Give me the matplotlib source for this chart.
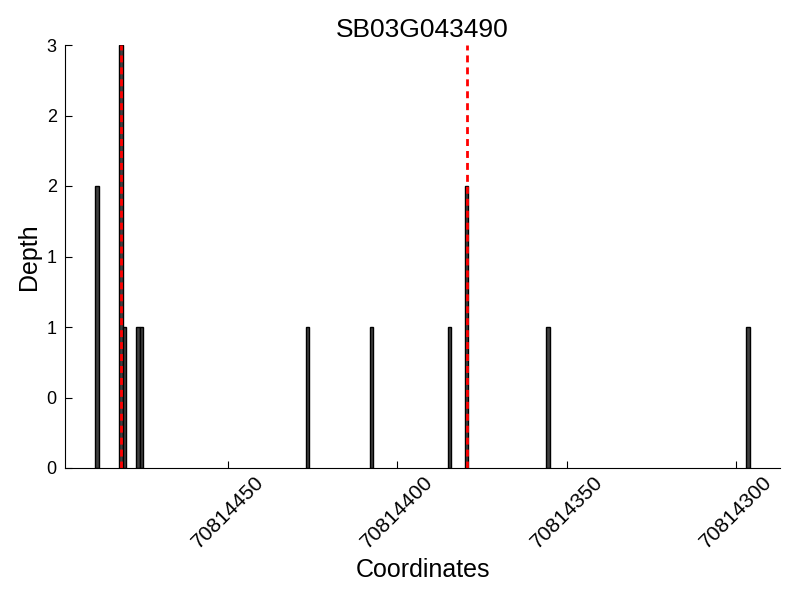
import matplotlib
matplotlib.use("Agg")
import matplotlib.pyplot as plt
from matplotlib.ticker import FormatStrFormatter

plt.rcParams['font.family'] = ['Liberation Sans', 'DejaVu Sans']

title = "SB03G043490"
positions = [70814488, 70814481, 70814480, 70814476, 70814475, 70814426,
             70814407, 70814384, 70814379, 70814355, 70814296]
depths = [2, 3, 1, 1, 1, 1, 1, 1, 2, 1, 1]
marker_positions = [70814481.5, 70814379.5]
xticks = [70814450, 70814400, 70814350, 70814300]
yticks = [0, 0.5, 1, 1.5, 2, 2.5, 3]
xlim = (70814498, 70814287)

fig = plt.figure(figsize=(8, 6), dpi=100)
ax = fig.add_axes([0.08125, 0.22, 0.89375, 0.705])

ax.bar(positions, depths, width=1, align='edge', color='0.25',
       edgecolor='black', linewidth=1)
for m in marker_positions:
    ax.axvline(m, color='red', linewidth=2, linestyle=(0, (2.5, 1.8)))

ax.set_xlim(*xlim)
ax.set_ylim(0, 3)
ax.set_xticks(xticks)
ax.set_xticklabels([str(t) for t in xticks], rotation=45, fontsize=15)
ax.set_yticks(yticks)
ax.yaxis.set_major_formatter(FormatStrFormatter('%d'))
ax.tick_params(axis='y', labelsize=13, pad=6)
ax.tick_params(direction='in', length=5, width=0.8)
ax.spines['top'].set_visible(False)
ax.spines['right'].set_visible(False)
ax.set_xlabel("Coordinates", fontsize=18)
ax.set_ylabel("Depth", fontsize=18, labelpad=4)
ax.set_title(title, fontsize=19)

fig.savefig("out.png", dpi=100)
